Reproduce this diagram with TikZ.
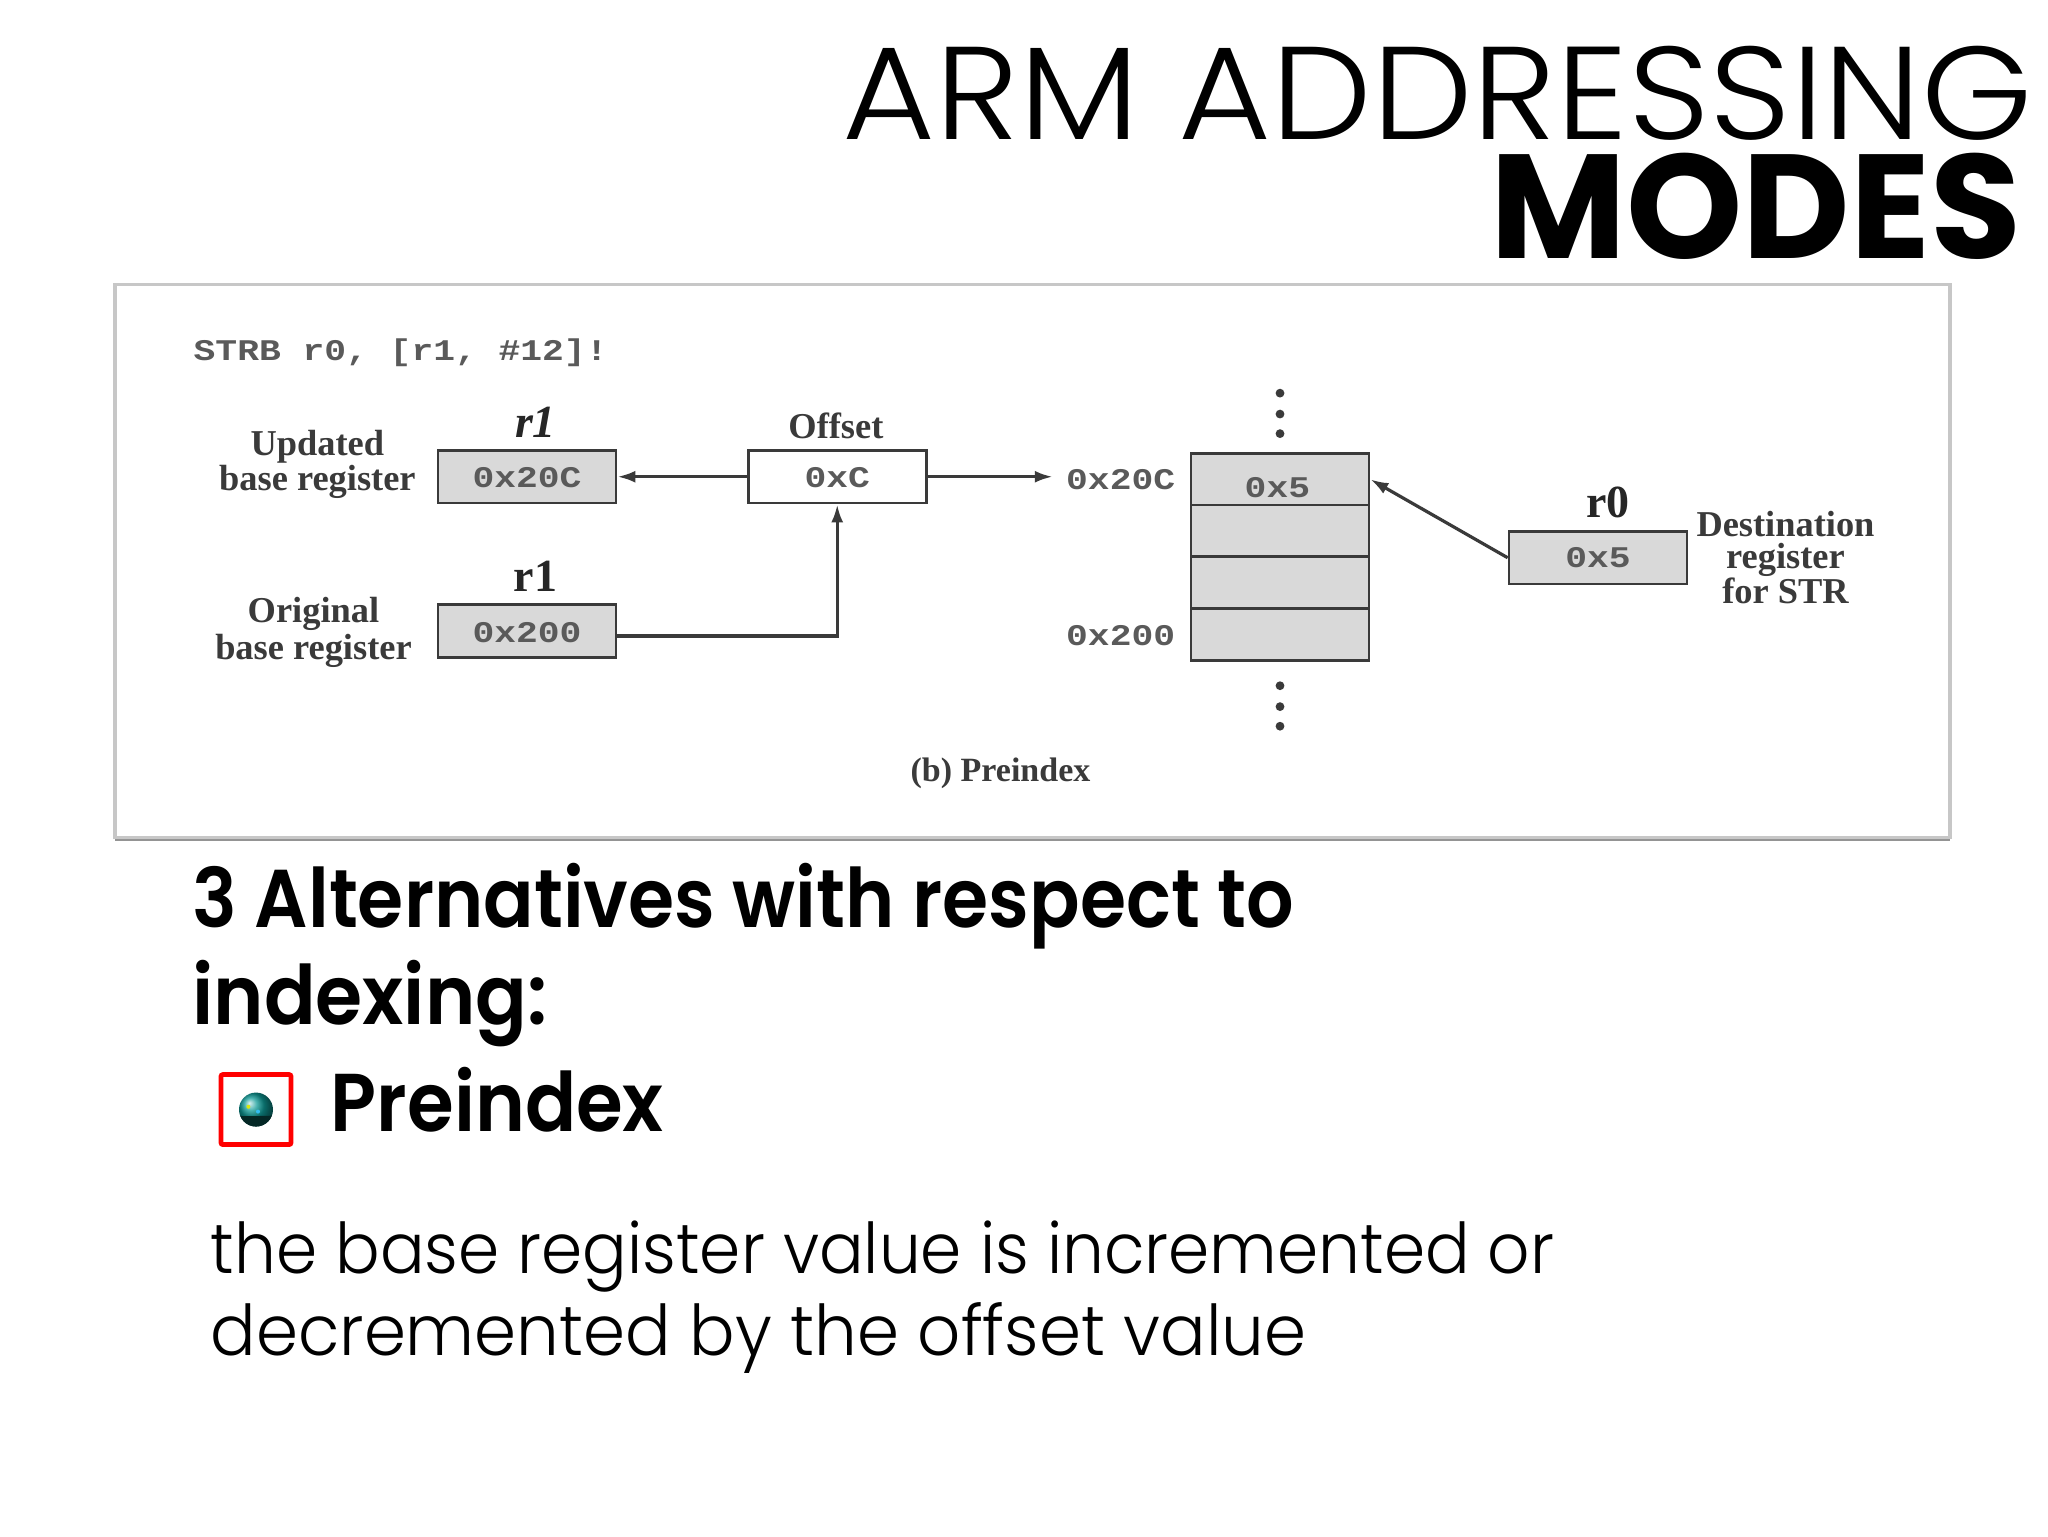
\documentclass[tikz,border=0pt]{standalone}
\usepackage{graphicx}
\usepackage{fontspec}
\setmainfont{Liberation Serif}
\newfontfamily\lightfont{Poppins Light}
\newfontfamily\boldfont{Poppins SemiBold}
\newfontfamily\heavyfont{Poppins}[BoldFont={* Bold}]
\newfontfamily\monofont{Liberation Mono}
\newcommand{\fsz}[1]{\fontsize{#1}{#1}\selectfont}
\newcommand{\sx}[2]{\scalebox{#1}[1]{#2}}
\usetikzlibrary{arrows.meta,calc}
\definecolor{boxgray}{HTML}{D9D9D9}
\definecolor{inkgray}{HTML}{3A3A3A}
\definecolor{monogray}{HTML}{5A5A5A}
\definecolor{teal1}{HTML}{0E9A96}
\tikzset{
  x=0.65306pt,y=-0.65306pt,
  regbox/.style={draw=inkgray,line width=1.4pt,fill=boxgray,inner sep=0pt,minimum width=89pt,minimum height=26.3pt},
  whitebox/.style={regbox,fill=white},
  conn/.style={draw=inkgray,line width=1.6pt,-{Latex[length=9pt,width=6pt]}},
  mono/.style={font=\monofont\bfseries\fsz{15},text=monogray,inner sep=0pt,anchor=center},
  lab/.style={font=\bfseries\fsz{18.2},text=inkgray,inner sep=0pt,anchor=center,align=center},
  regname/.style={font=\bfseries\fsz{23},text=black!85,inner sep=0pt,anchor=center},
  ttl/.style={inner sep=0pt,anchor=base east,text=black},
  body/.style={inner sep=0pt,anchor=base west,text=black},
  dotm/.style={circle,fill=inkgray,inner sep=0pt,minimum size=4.4pt},
}
\begin{document}
\begin{tikzpicture}
\useasboundingbox (0,0) rectangle (1568,1176);
\fill[white] (0,0) rectangle (1568,1176);
% frame
\fill[black!42] (88,638) rectangle (1493,644);
\draw[draw=black!22,line width=1.6pt,fill=white] (88,218) rectangle (1493,641);
% title
\node[ttl,font=\lightfont\fsz{66}] (t1) at (1557,107) {\sx{1.08}{ARM ADDRESSING}};
\node[ttl,font=\heavyfont\bfseries\fsz{74}] (t2) at (1548,198) {MODES};
% diagram
\node[mono,anchor=west] (code) at (148,270) {\sx{1.21}{STRB r0, [r1, \#12]!}};
\node[regbox] (upd) at (403.5,365) {};
\node[mono] at (403.5,366) {\sx{1.21}{0x20C}};
\node[whitebox] (off) at (641,365) {};
\node[mono] at (641,366) {\sx{1.21}{0xC}};
\node[regbox] (org) at (403.5,483) {};
\node[mono] at (403.5,484) {\sx{1.21}{0x200}};
\node[regname,font=\bfseries\itshape\fsz{23}] (r1a) at (410,323) {r1};
\node[regname] (r1b) at (410,441) {r1};
\node[lab] (offl) at (640,326) {Offset};
\node[lab] (ul1) at (243,342) {Updated};
\node[lab] (ul2) at (243,369) {base register};
\node[lab] (ol1) at (240,470) {Original};
\node[lab] (ol2) at (240,498) {base register};
\coordinate (ptr) at (806,365);
\node[mono] (a20c) at (858,367) {\sx{1.21}{0x20C}};
\node[mono] (a200) at (858,487) {\sx{1.21}{0x200}};
% memory
\node[regbox,minimum height=26pt] (m1) at (980,367) {};
\node[regbox,minimum height=26pt] (m2) at (980,406.5) {};
\node[regbox,minimum height=26pt] (m3) at (980,446) {};
\node[regbox,minimum height=26pt] (m4) at (980,486) {};
\node[mono] (m1t) at (978,373) {\sx{1.21}{0x5}};
\node[regbox] (r0b) at (1223.5,427) {};
\node[mono] (r0t) at (1223.5,427) {\sx{1.21}{0x5}};
\node[regname] (r0l) at (1231,385) {r0};
\node[lab] (d1) at (1367,401) {Destination};
\node[lab] (d2) at (1367,429) {register};
\node[lab] (d3) at (1367,452) {for STR};
\node[font=\fsz{17},text=inkgray,inner sep=0pt] (cap) at (766,592) {\textbf{(b) Preindex}};
\foreach \n/\yy in {a/301,b/317,c/332,d/525,e/541,f/556}
  \node[dotm] (dot\n) at (980,\yy) {};
% connectors
\draw[conn] (off.west) -- (upd.east);
\draw[conn] (off.east) -- (ptr);
\draw[conn] (org.east |- 0,487) -- (641,487) -- (off.south);
\draw[conn] (r0b.west) -- (m1.east);
% lower text
\node[body,font=\boldfont\fsz{41}] (b1) at (147,710) {\sx{.91}{3 Alternatives with respect to}};
\node[body,font=\boldfont\fsz{41}] (b2) at (147,784) {\sx{.93}{indexing:}};
\node[body,font=\boldfont\fsz{41}] (b3) at (253,866) {\sx{.922}{Preindex}};
\node[draw=red,line width=2.4pt,rounded corners=1pt,minimum width=35pt,minimum height=35pt,inner sep=0pt] (bullet) at (196,849.5) {};
\begin{scope}
\clip (bullet.center) circle (8.5pt);
\shade[ball color=teal1] (bullet.center) circle (8.5pt);
\fill[black!75!teal1] ($(bullet.center)+(-9pt,-3pt)$) .. controls +(5pt,-1pt) and +(10pt,2pt) .. ($(bullet.center)+(9pt,-4pt)$) -- ($(bullet.center)+(9pt,-9pt)$) -- ($(bullet.center)+(-9pt,-9pt)$) -- cycle;
\fill[cyan!80!white] ($(bullet.center)+(1pt,-1pt)$) circle (1pt);
\fill[yellow!85!green] ($(bullet.center)+(-3.8pt,1.4pt)$) circle (1pt);
\end{scope}
\node[body,font=\lightfont\fsz{35}] (c1) at (161,975) {\sx{.945}{the base register value is incremented or}};
\node[body,font=\lightfont\fsz{35}] (c2) at (161,1038) {\sx{.964}{decremented by the offset value}};
\end{tikzpicture}
\end{document}
